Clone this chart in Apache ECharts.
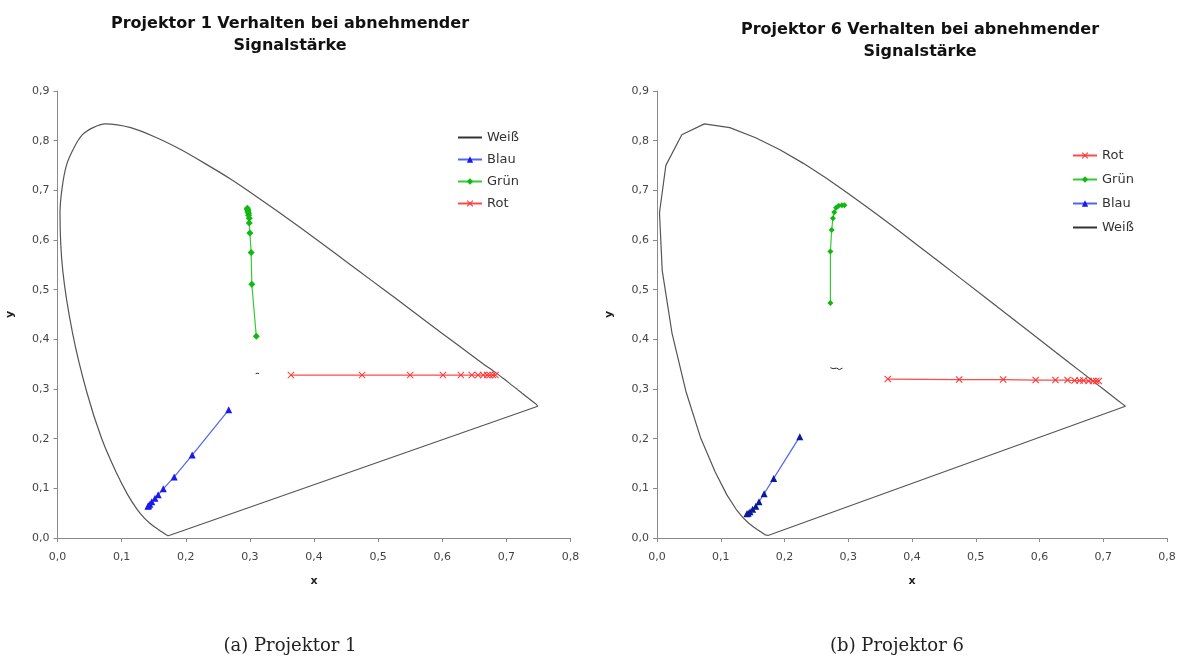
<!DOCTYPE html>
<html>
<head>
<meta charset="utf-8">
<script src="https://cdn.jsdelivr.net/npm/echarts@6/dist/echarts.min.js"></script>
<style>
  html, body { margin: 0; padding: 0; background: #fff; }
  #chart { width: 1190px; height: 660px; }
</style>
</head>
<body>
<div id="chart"></div>
<script>
// Spectral locus (x, y) from 380 nm to 700 nm, as plotted for Projektor 1
const locus1 = [
  [0.1741, 0.0050], [0.1733, 0.0048], [0.1726, 0.0048], [0.1714, 0.0051],
  [0.1689, 0.0069], [0.1644, 0.0109], [0.1566, 0.0177], [0.1510, 0.0227],
  [0.1440, 0.0297], [0.1355, 0.0399], [0.1241, 0.0578], [0.1096, 0.0868],
  [0.0913, 0.1327], [0.0687, 0.2007], [0.0454, 0.2950], [0.0235, 0.4127],
  [0.0082, 0.5384], [0.0039, 0.6548], [0.0139, 0.7502], [0.0389, 0.8120],
  [0.0743, 0.8338], [0.1142, 0.8262], [0.1547, 0.8059], [0.1929, 0.7816],
  [0.2296, 0.7543], [0.2680, 0.7243], [0.3050, 0.6923], [0.3420, 0.6589],
  [0.3790, 0.6245], [0.4160, 0.5896], [0.4520, 0.5547], [0.4880, 0.5202],
  [0.5230, 0.4866], [0.5560, 0.4544], [0.5870, 0.4242], [0.6160, 0.3965],
  [0.6410, 0.3725], [0.6630, 0.3514], [0.6820, 0.3340], [0.6970, 0.3197],
  [0.7080, 0.3083], [0.7170, 0.2993], [0.7240, 0.2920], [0.7350, 0.2809],
  [0.7420, 0.2740], [0.7460, 0.2700], [0.7490, 0.2653]
];
const purple1 = [[0.7490, 0.2653], [0.1741, 0.0050]];

// Spectral locus (x, y) from 380 nm to 700 nm, as plotted for Projektor 6
const locus6 = [
  [0.1741, 0.0050], [0.1733, 0.0048], [0.1726, 0.0048], [0.1714, 0.0051],
  [0.1689, 0.0069], [0.1644, 0.0109], [0.1566, 0.0177], [0.1510, 0.0227],
  [0.1440, 0.0297], [0.1355, 0.0399], [0.1241, 0.0578], [0.1096, 0.0868],
  [0.0913, 0.1327], [0.0687, 0.2007], [0.0454, 0.2950], [0.0235, 0.4127],
  [0.0082, 0.5384], [0.0039, 0.6548], [0.0139, 0.7502], [0.0389, 0.8120],
  [0.0743, 0.8338], [0.1142, 0.8262], [0.1547, 0.8059], [0.1929, 0.7816],
  [0.2296, 0.7543], [0.2658, 0.7243], [0.3016, 0.6923], [0.3373, 0.6589],
  [0.3731, 0.6245], [0.4087, 0.5896], [0.4441, 0.5547], [0.4788, 0.5202],
  [0.5125, 0.4866], [0.5448, 0.4544], [0.5752, 0.4242], [0.6029, 0.3965],
  [0.6270, 0.3725], [0.6482, 0.3514], [0.6658, 0.3340], [0.6801, 0.3197],
  [0.6915, 0.3083], [0.7006, 0.2993], [0.7079, 0.2920], [0.7140, 0.2859],
  [0.7190, 0.2809], [0.7230, 0.2770], [0.7260, 0.2740], [0.7300, 0.2700],
  [0.7320, 0.2680], [0.7347, 0.2653]
];
const purple6 = [[0.7347, 0.2653], [0.1741, 0.0050]];

// Projektor 1
const p1Weiss = [[0.309, 0.331], [0.311, 0.333], [0.313, 0.332], [0.314, 0.330]];
const p1Blau = [
  [0.267, 0.258], [0.210, 0.167], [0.182, 0.123], [0.165, 0.099],
  [0.157, 0.087], [0.152, 0.080], [0.147, 0.073], [0.144, 0.068],
  [0.142, 0.065], [0.141, 0.064]
];
const p1Gruen = [
  [0.296, 0.664], [0.296, 0.662], [0.297, 0.660], [0.297, 0.657],
  [0.298, 0.654], [0.298, 0.650], [0.299, 0.644], [0.299, 0.634],
  [0.300, 0.614], [0.302, 0.575], [0.303, 0.511], [0.310, 0.406]
];
const p1Rot = [
  [0.364, 0.328], [0.475, 0.328], [0.550, 0.328], [0.601, 0.328],
  [0.629, 0.328], [0.646, 0.328], [0.656, 0.328], [0.664, 0.328],
  [0.670, 0.328], [0.674, 0.328], [0.679, 0.328], [0.683, 0.328]
];

// Projektor 6
const p6Rot = [
  [0.362, 0.320], [0.474, 0.319], [0.543, 0.319], [0.594, 0.318],
  [0.625, 0.318], [0.644, 0.318], [0.655, 0.317], [0.663, 0.317],
  [0.669, 0.317], [0.677, 0.316], [0.684, 0.316], [0.689, 0.316],
  [0.693, 0.316]
];
const p6Gruen = [
  [0.272, 0.473], [0.272, 0.577], [0.274, 0.620], [0.276, 0.644],
  [0.278, 0.656], [0.281, 0.665], [0.285, 0.669], [0.290, 0.670],
  [0.294, 0.670]
];
const p6Blau = [
  [0.224, 0.204], [0.183, 0.120], [0.168, 0.089], [0.160, 0.073],
  [0.155, 0.064], [0.150, 0.058], [0.146, 0.053], [0.143, 0.050],
  [0.141, 0.049]
];
const p6Weiss = [
  [0.272, 0.343], [0.276, 0.341], [0.279, 0.340], [0.282, 0.342],
  [0.286, 0.339], [0.291, 0.342]
];

const xTicks = { min: 0, max: 0.8, interval: 0.1 };
const yTicks = { min: 0, max: 0.9, interval: 0.1 };

const crossPath = 'path://M0,1L1,0L5,4L9,0L10,1L6,5L10,9L9,10L5,6L1,10L0,9L4,5Z';
const tickFmt = v => v.toFixed(1).replace('.', ',');
const FONT = 'DejaVu Sans';

function xAxis(gi) {
  return {
    type: 'value', gridIndex: gi, min: xTicks.min, max: xTicks.max, interval: xTicks.interval,
    name: 'x', nameLocation: 'middle', nameGap: 38,
    nameTextStyle: { fontFamily: FONT, fontWeight: 'bold', fontSize: 11, color: '#222' },
    axisLine: { lineStyle: { color: '#8a8a8a', width: 1 } },
    axisTick: { show: true, inside: false, length: 4, lineStyle: { color: '#8a8a8a' } },
    axisLabel: { formatter: tickFmt, fontFamily: FONT, fontSize: 11, color: '#444', margin: 14 },
    splitLine: { show: false }
  };
}
function yAxis(gi) {
  return {
    type: 'value', gridIndex: gi, min: yTicks.min, max: yTicks.max, interval: yTicks.interval,
    name: 'y', nameLocation: 'middle', nameGap: 42,
    nameTextStyle: { fontFamily: FONT, fontWeight: 'bold', fontSize: 11, color: '#222' },
    axisLine: { show: true, lineStyle: { color: '#8a8a8a', width: 1 } },
    axisTick: { show: true, inside: false, length: 4, lineStyle: { color: '#8a8a8a' } },
    axisLabel: { formatter: tickFmt, fontFamily: FONT, fontSize: 11, color: '#444', margin: 8 },
    splitLine: { show: false }
  };
}

function locusSeries(gi, curve, closing, smooth) {
  return [{
    type: 'line', xAxisIndex: gi, yAxisIndex: gi,
    data: curve, showSymbol: false, smooth: smooth, silent: true,
    lineStyle: { color: '#555', width: 1.2 }, z: 1
  }, {
    type: 'line', xAxisIndex: gi, yAxisIndex: gi,
    data: closing, showSymbol: false, silent: true,
    lineStyle: { color: '#555', width: 1.2 }, z: 1
  }];
}
function weissSeries(gi, data) {
  return {
    name: 'Weiß', type: 'line', xAxisIndex: gi, yAxisIndex: gi, data: data,
    symbol: 'none', lineStyle: { color: '#333', width: 1 }, itemStyle: { color: '#555' }
  };
}
function blauSeries(gi, data, markColor) {
  return {
    name: 'Blau', type: 'line', xAxisIndex: gi, yAxisIndex: gi, data: data,
    symbol: 'triangle', symbolSize: 7,
    lineStyle: { color: '#4d66ee', width: 1.2 }, itemStyle: { color: markColor }
  };
}
function gruenSeries(gi, data, size) {
  return {
    name: 'Grün', type: 'line', xAxisIndex: gi, yAxisIndex: gi, data: data,
    symbol: 'diamond', symbolSize: size,
    lineStyle: { color: '#33cc33', width: 1.2 }, itemStyle: { color: '#11b811' }
  };
}
function rotSeries(gi, data) {
  return {
    name: 'Rot', type: 'line', xAxisIndex: gi, yAxisIndex: gi, data: data,
    symbol: crossPath, symbolSize: 7,
    lineStyle: { color: '#ff4a4a', width: 1.2 }, itemStyle: { color: '#ff3030' }
  };
}

function legend(left, top, gap, names) {
  return {
    orient: 'vertical', left: left, top: top,
    data: names.map(n => n === 'Weiß' ? { name: n, itemStyle: { opacity: 0 } } : n),
    itemWidth: 24, itemHeight: 8, itemGap: gap, selectedMode: false,
    textStyle: { fontFamily: FONT, fontSize: 13, color: '#333', padding: [0, 0, 0, 0] }
  };
}

const chart = echarts.init(document.getElementById('chart'), null, { renderer: 'canvas' });
chart.setOption({
  backgroundColor: '#fff',
  animation: false,
  grid: [
    { left: 57.5, top: 91, width: 513, height: 447 },
    { left: 657, top: 91, width: 510, height: 447 }
  ],
  xAxis: [xAxis(0), xAxis(1)],
  yAxis: [yAxis(0), yAxis(1)],
  legend: [
    legend(452, 126, 9, ['Weiß', 'Blau', 'Grün', 'Rot']),
    legend(1067, 144, 11, ['Rot', 'Grün', 'Blau', 'Weiß'])
  ],
  series: [
    ...locusSeries(0, locus1, purple1, 0.25),
    weissSeries(0, p1Weiss),
    blauSeries(0, p1Blau, '#1a1aee'),
    gruenSeries(0, p1Gruen, 7),
    rotSeries(0, p1Rot),
    ...locusSeries(1, locus6, purple6, false),
    rotSeries(1, p6Rot),
    gruenSeries(1, p6Gruen, 6),
    blauSeries(1, p6Blau, '#0a1a99'),
    weissSeries(1, p6Weiss)
  ],
  graphic: [
    {
      type: 'text', x: 290, y: 13,
      style: {
        text: 'Projektor 1 Verhalten bei abnehmender\nSignalstärke',
        font: 'bold 16px "DejaVu Sans"', fill: '#111', textAlign: 'center', lineHeight: 22
      }
    },
    {
      type: 'text', x: 920, y: 19,
      style: {
        text: 'Projektor 6 Verhalten bei abnehmender\nSignalstärke',
        font: 'bold 16px "DejaVu Sans"', fill: '#111', textAlign: 'center', lineHeight: 22
      }
    },
    {
      type: 'text', x: 290, y: 637,
      style: { text: '(a) Projektor 1', font: '18px "DejaVu Serif"', fill: '#222', textAlign: 'center' }
    },
    {
      type: 'text', x: 897, y: 637,
      style: { text: '(b) Projektor 6', font: '18px "DejaVu Serif"', fill: '#222', textAlign: 'center' }
    }
  ]
});
</script>
</body>
</html>
